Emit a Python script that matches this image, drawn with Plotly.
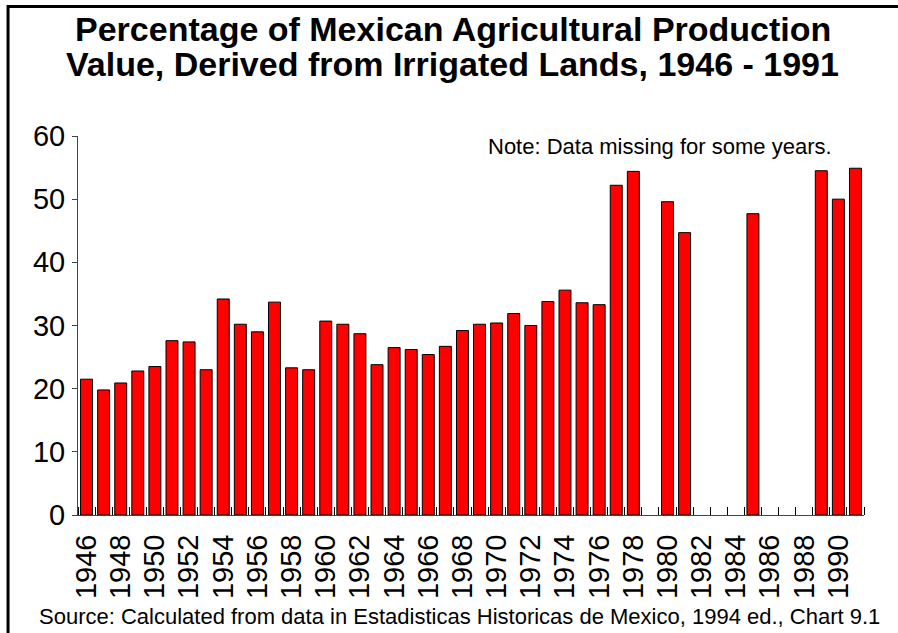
"""
Share of Mexican agricultural production value from irrigated lands, 1946-1991.
"""

import plotly.graph_objects as go

# ── data ─────────────────────────────────────────────────────────────────────

YEARS = list(range(1946, 1992))

# percent of production value; None where the source has no figure
IRRIGATED_PCT = [
    21.5, 19.8, 20.9, 22.8, 23.5, 27.6, 27.4, 23.0, 34.2, 30.2,   # 1946-1955
    29.0, 33.7, 23.3, 23.0, 30.7, 30.2, 28.7, 23.8, 26.5, 26.2,   # 1956-1965
    25.4, 26.7, 29.2, 30.2, 30.4, 31.9, 30.0, 33.8, 35.6, 33.6,   # 1966-1975
    33.3, 52.2, 54.4, None, 49.6, 44.7, None, None, None, 47.7,   # 1976-1985
    None, None, None, 54.5, 50.0, 54.9,                           # 1986-1991
]

TICK_YEARS = YEARS[::2]
TICK_LABELS = [str(y) for y in TICK_YEARS]

TITLE_LINES = [
    "Percentage of Mexican Agricultural Production",
    "Value, Derived from Irrigated Lands, 1946 - 1991",
]
NOTE = "Note: Data missing for some years."
SOURCE = ("Source: Calculated from data in Estadisticas Historicas de Mexico, "
          "1994 ed., Chart 9.1")

FONT = "Liberation Sans, Arial, sans-serif"

# ── figure ───────────────────────────────────────────────────────────────────

fig = go.Figure(
    go.Bar(
        x=YEARS,
        y=IRRIGATED_PCT,
        marker=dict(color="#FF0000", line=dict(color="black", width=1)),
        hovertemplate="%{x}: %{y:.1f}%<extra></extra>",
    )
)

fig.update_layout(
    width=898,
    height=633,
    margin=dict(l=78, r=34, t=136, b=118),
    plot_bgcolor="white",
    paper_bgcolor="white",
    showlegend=False,
    bargap=0.3,
    font=dict(family=FONT, color="black"),
    xaxis=dict(
        range=[YEARS[0] - 0.5, YEARS[-1] + 0.5],
        tickmode="array",
        tickvals=TICK_YEARS,
        ticktext=TICK_LABELS,
        tickangle=-90,
        ticks="",
        ticklabelstandoff=7,
        tickfont=dict(size=29),
        showline=True,
        linecolor="#444",
        linewidth=1,
        showgrid=False,
        zeroline=False,
        minor=dict(
            tickmode="linear",
            tick0=YEARS[0] - 0.5,
            dtick=1,
            ticks="inside",
            ticklen=8,
            tickcolor="black",
            tickwidth=1,
            showgrid=False,
        ),
    ),
    yaxis=dict(
        range=[0, 60],
        dtick=10,
        ticks="outside",
        ticklen=5,
        tickcolor="#444",
        ticklabelstandoff=1,
        tickfont=dict(size=29),
        showline=True,
        linecolor="#444",
        linewidth=1,
        showgrid=False,
        zeroline=False,
    ),
)

# two-line title, placed line by line
for text, ypos in zip(TITLE_LINES, [1.283, 1.190]):
    fig.add_annotation(
        text=text, xref="paper", yref="paper", x=0.477, y=ypos,
        xanchor="center", yanchor="middle", showarrow=False,
        font=dict(size=34, weight="bold"),
    )

fig.add_annotation(
    text=NOTE, xref="paper", yref="paper", x=0.74, y=0.971,
    xanchor="center", yanchor="middle", showarrow=False,
    font=dict(size=22),
)
fig.add_annotation(
    text=SOURCE, xref="paper", yref="paper", x=0.486, y=-0.269,
    xanchor="center", yanchor="middle", showarrow=False,
    font=dict(size=22),
)

# frame around the chart (left and top edges visible in the original)
fig.add_shape(
    type="rect", xref="paper", yref="paper",
    x0=-0.089, x1=1.1, y0=-0.4, y1=1.342,
    line=dict(color="black", width=3),
    layer="above",
)

# drop the page's default body margin so the figure fills the window
fig.write_html(
    "out.html",
    config={"displayModeBar": False},
    post_script="document.body.style.margin='0';",
)
